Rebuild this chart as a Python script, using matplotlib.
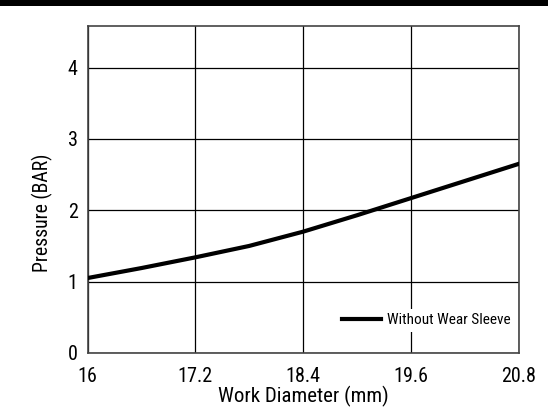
import matplotlib
matplotlib.use("Agg")
import matplotlib.pyplot as plt
from matplotlib.patches import Rectangle

plt.rcParams['font.family'] = ['Roboto Condensed', 'DejaVu Sans']

# data
diameter = [16.0, 16.6, 17.2, 17.8, 18.4, 19.0, 19.6, 20.2, 20.8]
pressure = [1.05, 1.19, 1.34, 1.50, 1.70, 1.93, 2.17, 2.41, 2.65]
xticks = [16, 17.2, 18.4, 19.6, 20.8]
xtick_labels = ['16', '17.2', '18.4', '19.6', '20.8']
yticks = [0, 1, 2, 3, 4]

fig = plt.figure(figsize=(5.48, 4.09), dpi=100)
ax = fig.add_axes([0.1597, 0.137, 0.9465 - 0.1597, 0.936 - 0.137])

# black band along the top
fig.patches.append(Rectangle((0, 1 - 6 / 409), 1, 6 / 409, transform=fig.transFigure,
                             facecolor='black', edgecolor='none'))

ax.plot(diameter, pressure, color='black', lw=3, label='Without Wear Sleeve', zorder=3)

ax.set_xlim(16, 20.8)
ax.set_ylim(0, 4.58)
ax.set_xticks(xticks)
ax.set_xticklabels(xtick_labels)
ax.set_yticks(yticks)
ax.grid(True, color='black', lw=0.9)
ax.tick_params(length=0, labelsize=14.5)
ax.tick_params(axis='x', pad=10)
ax.tick_params(axis='y', pad=7)
for s in ax.spines.values():
    s.set_color('#444444')
    s.set_linewidth(1.2)

ax.set_xlabel('Work Diameter (mm)', fontsize=15, labelpad=0)
ax.set_ylabel('Pressure (BAR)', fontsize=14.2)
ax.yaxis.set_label_coords(-0.08, 0.428)

leg = ax.legend(loc='center right', bbox_to_anchor=(1.0, 0.10), fontsize=11,
                frameon=True, fancybox=False, handlelength=2.5, handletextpad=0.45,
                borderpad=0.3, borderaxespad=0.2)
leg.get_frame().set_edgecolor('none')
leg.get_frame().set_facecolor('white')
leg.get_frame().set_alpha(1)

fig.savefig('out.png', dpi=100)
